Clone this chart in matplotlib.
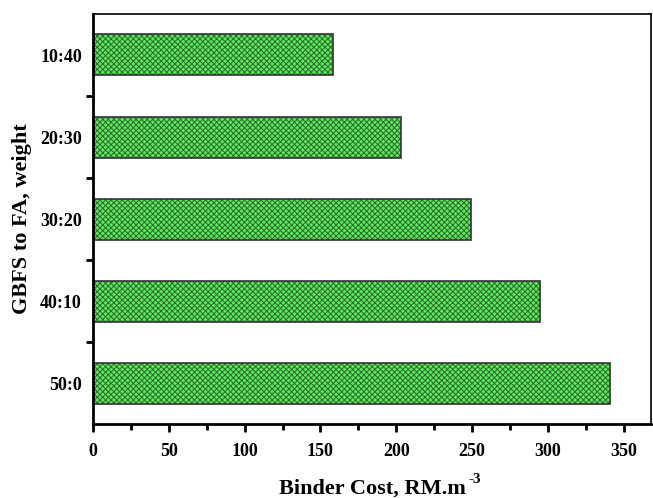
import matplotlib
matplotlib.use("Agg")
import matplotlib.pyplot as plt
from matplotlib.ticker import MultipleLocator

categories = ["50:0", "40:10", "30:20", "20:30", "10:40"]
costs = [341, 295, 249, 203, 158]

plt.rcParams['font.family'] = ['Liberation Serif', 'DejaVu Serif']
plt.rcParams['font.weight'] = 'bold'
plt.rcParams['hatch.linewidth'] = 0.7

fig = plt.figure(figsize=(6.53, 4.98), dpi=100)
ax = fig.add_axes([93/653, 1-424/498, (651-93)/653, (424-14)/498])

pos = list(range(len(categories)))
ax.barh(pos, costs, height=0.5, color='#5ee85e', edgecolor='#2a6a2a',
        hatch='xxxxxx', linewidth=0)
ax.barh(pos, costs, height=0.5, color='none', edgecolor='#333333', linewidth=1.2)

ax.set_xlim(0, 368)
ax.set_ylim(-0.5, 4.5)
ax.set_yticks(pos)
ax.set_yticklabels(categories)
ax.set_yticks([p + 0.5 for p in pos[:-1]], minor=True)
ax.xaxis.set_major_locator(MultipleLocator(50))
ax.xaxis.set_minor_locator(MultipleLocator(25))

ax.tick_params(axis='y', which='major', length=0, pad=8, labelsize=13)
ax.tick_params(axis='y', which='minor', length=5, width=2, direction='out')
ax.tick_params(axis='x', which='major', length=6, width=2, direction='out', labelsize=13, pad=8)
ax.tick_params(axis='x', which='minor', length=4, width=2, direction='out')
for lab in ax.get_xticklabels() + ax.get_yticklabels():
    lab.set_fontweight('bold')

for side in ['left', 'bottom']:
    ax.spines[side].set_linewidth(2)
for side in ['top', 'right']:
    ax.spines[side].set_linewidth(1.2)

ax.set_xlabel("Binder Cost, RM.m", fontsize=16, fontweight='bold', labelpad=13)
ax.set_ylabel("GBFS to FA, weight", fontsize=16, fontweight='bold', labelpad=6)
ax.annotate("-3", xy=(1, 1), xycoords=ax.xaxis.label, xytext=(2, -1),
            textcoords='offset points', fontsize=11, fontweight='bold',
            ha='left', va='center')

fig.savefig("out.png", dpi=100)
